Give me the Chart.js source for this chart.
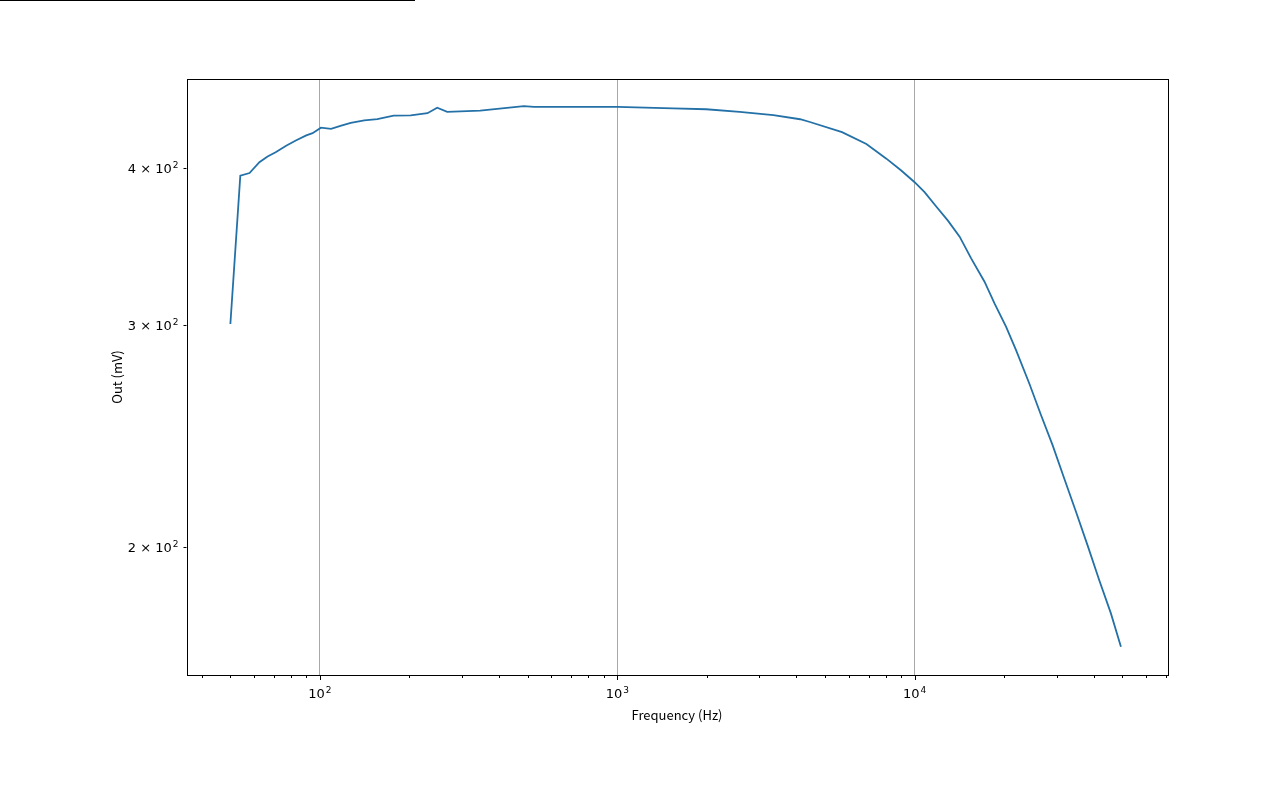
<!DOCTYPE html>
<html>
<head>
<meta charset="utf-8">
<script src="https://cdn.jsdelivr.net/npm/chart.js@4.4.1/dist/chart.umd.min.js"></script>
<style>
  html, body { margin: 0; padding: 0; background: #fff; }
  #wrap { position: relative; width: 1280px; height: 800px; }
  #strip { position: absolute; left: 0; top: 0; width: 415px; height: 1px; background: #000; }
</style>
</head>
<body>
<div id="wrap">
  <canvas id="chart" width="1280" height="800"></canvas>
  <div id="strip"></div>
</div>
<script>
// measured response: frequency (Hz) vs output (mV)
const freqHz = [
  50, 54, 58, 62.6, 66.7, 71, 77, 83, 90, 94.5,
  100.8, 109, 118, 127, 141, 156, 177, 202, 230, 248,
  268, 346, 485, 525, 1000, 1540, 1990, 2580, 3350, 4120,
  4444, 5700, 6883, 8035, 9015, 10000, 10800, 11820, 12940, 14170,
  15490, 17180, 18560, 20310, 21930, 24300, 26600, 29100, 31850, 34880,
  38160, 41770, 45710, 49400
];
const outMv = [
  300.8, 394.7, 396.6, 404.6, 408.8, 412, 417, 421, 425, 426.7,
  431, 430, 432.6, 434.8, 436.8, 437.8, 440.6, 440.8, 442.6, 447,
  443.7, 444.6, 448.3, 447.7, 447.7, 446.5, 445.8, 443.6, 441, 437.7,
  435.5, 427.5, 418.3, 407.2, 398.5, 390, 383, 373, 363.5, 353,
  339.2, 325.0, 312.3, 299.2, 286.7, 269.7, 254.6, 240.9, 226.6, 213.2,
  200.5, 188.1, 177.0, 166.5
];

// tick positions; labels are mantissa + exponent
const xMajor = [100, 1000, 10000];
const xMajorExp = ['2', '3', '4'];
const xTicks = [40, 50, 60, 70, 80, 90, 100, 200, 300, 400, 500, 600, 700, 800, 900,
  1000, 2000, 3000, 4000, 5000, 6000, 7000, 8000, 9000,
  10000, 20000, 30000, 40000, 50000, 60000, 70000];
const yTicks = [200, 300, 400];
const yTickMant = ['2 \u00d7 10', '3 \u00d7 10', '4 \u00d7 10'];
const yTickExp = ['2', '2', '2'];

const titleFont = { family: 'Noto Sans CJK SC', size: 13 };

function noPad(scale) {
  scale.paddingTop = 0;
  scale.paddingBottom = 0;
  scale.paddingLeft = 0;
  scale.paddingRight = 0;
}

// mathtext-like "m x 10^e" label, y is the baseline
function powerLabel(ctx, mant, exp, x, y, align) {
  ctx.font = '13px "DejaVu Sans"';
  const wBase = ctx.measureText(mant).width;
  ctx.font = '9px "DejaVu Sans"';
  const wExp = ctx.measureText(exp).width;
  const total = wBase + 1 + wExp;
  const start = align === 'center' ? x - total / 2 : x - total;
  ctx.font = '13px "DejaVu Sans"';
  ctx.fillText(mant, start, y);
  ctx.font = '9px "DejaVu Sans"';
  ctx.fillText(exp, start + wBase + 1, y - 5);
}

const frameAndTicks = {
  id: 'frameAndTicks',
  afterDraw(chart) {
    const { ctx, chartArea: a, scales: { x, y } } = chart;
    ctx.save();
    ctx.strokeStyle = '#000';
    ctx.lineWidth = 1;
    ctx.strokeRect(Math.round(a.left) + 0.5, Math.round(a.top) + 0.5,
      Math.round(a.right - a.left), Math.round(a.bottom - a.top));
    ctx.beginPath();
    for (const t of x.ticks) {
      const px = Math.round(x.getPixelForValue(t.value)) + 0.5;
      const len = xMajor.includes(t.value) ? 5 : 3;
      ctx.moveTo(px, a.bottom);
      ctx.lineTo(px, a.bottom + len);
    }
    for (const t of y.ticks) {
      const py = Math.round(y.getPixelForValue(t.value)) + 0.5;
      ctx.moveTo(a.left - 3, py);
      ctx.lineTo(a.left, py);
    }
    ctx.stroke();

    ctx.fillStyle = '#000';
    ctx.textBaseline = 'alphabetic';
    ctx.textAlign = 'left';
    xMajor.forEach((v, i) => {
      powerLabel(ctx, '10', xMajorExp[i], x.getPixelForValue(v), a.bottom + 23, 'center');
    });
    yTicks.forEach((v, i) => {
      powerLabel(ctx, yTickMant[i], yTickExp[i], a.left - 8, y.getPixelForValue(v) + 5, 'right');
    });
    ctx.restore();
  }
};

new Chart(document.getElementById('chart'), {
  type: 'line',
  data: {
    datasets: [{
      data: freqHz.map((f, i) => ({ x: f, y: outMv[i] })),
      borderColor: '#2471a8',
      borderWidth: 1.8,
      pointRadius: 0,
      tension: 0,
      fill: false
    }]
  },
  options: {
    responsive: false,
    animation: false,
    layout: { padding: { top: 79, right: 112.5, left: 0, bottom: 0 } },
    plugins: { legend: { display: false }, tooltip: { enabled: false } },
    scales: {
      x: {
        type: 'logarithmic',
        min: 35.6,
        max: 70850,
        afterBuildTicks: (scale) => { scale.ticks = xTicks.map(v => ({ value: v })); },
        afterFit: (scale) => { scale.height = 125; noPad(scale); },
        ticks: { display: false, autoSkip: false },
        grid: {
          drawTicks: false,
          lineWidth: 1,
          color: (c) => (c.tick && xMajor.includes(c.tick.value)) ? '#a8a8a8' : 'rgba(0,0,0,0)'
        },
        border: { display: false },
        title: {
          display: true,
          text: 'Frequency (Hz)',
          color: '#000',
          font: titleFont,
          padding: { top: 0, bottom: 77 }
        }
      },
      y: {
        type: 'logarithmic',
        min: 158.1,
        max: 471.2,
        afterBuildTicks: (scale) => { scale.ticks = yTicks.map(v => ({ value: v })); },
        afterFit: (scale) => { scale.width = 186.5; noPad(scale); },
        ticks: { display: false, autoSkip: false },
        grid: { drawTicks: false, color: 'rgba(0,0,0,0)' },
        border: { display: false },
        title: {
          display: true,
          text: 'Out (mV)',
          color: '#000',
          font: titleFont,
          padding: { top: 109, bottom: 0 }
        }
      }
    }
  },
  plugins: [frameAndTicks]
});
</script>
</body>
</html>
